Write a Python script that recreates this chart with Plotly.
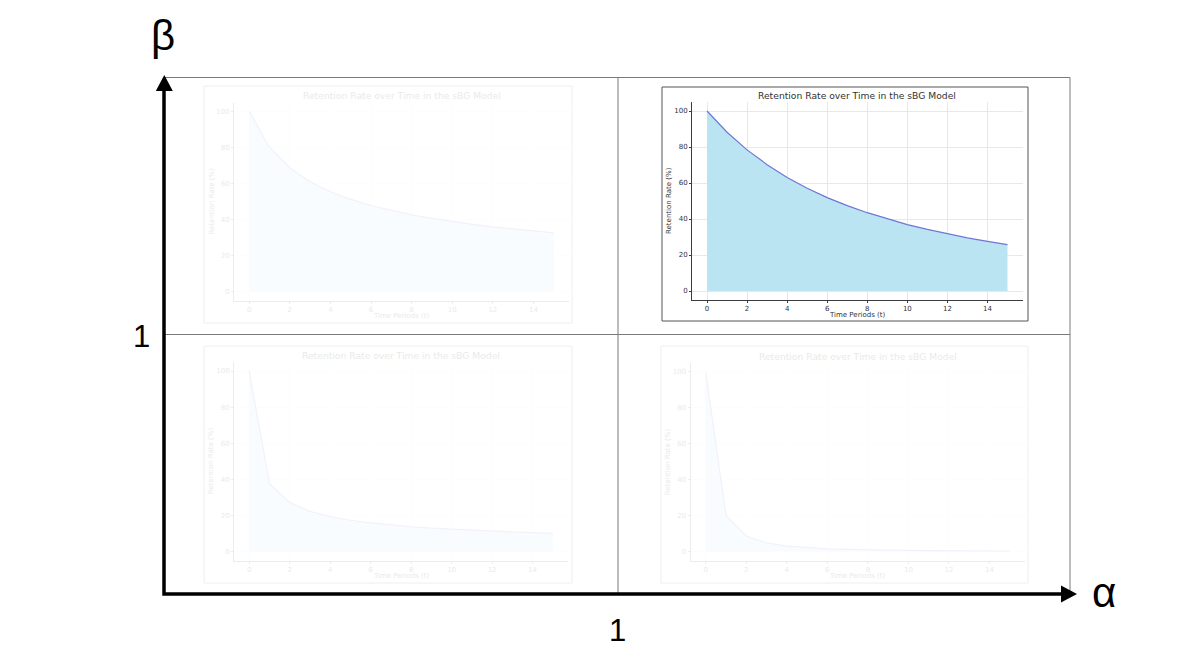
import plotly.graph_objects as go

# time periods and retention curves (percent), one per quadrant
periods = list(range(16))
ret_top_left = [100, 80.0, 68.6, 61.0, 55.4, 51.2, 47.8, 45.0, 42.6, 40.6, 38.8, 37.3, 35.9, 34.7, 33.6, 32.6]
ret_top_right = [100, 88.2, 78.4, 70.2, 63.1, 57.1, 51.9, 47.4, 43.5, 40.0, 36.9, 34.2, 31.7, 29.5, 27.6, 25.8]
ret_bottom_left = [100, 37.5, 27.1, 22.2, 19.3, 17.3, 15.8, 14.6, 13.7, 12.9, 12.3, 11.7, 11.2, 10.8, 10.4, 10.0]
ret_bottom_right = [100, 20.0, 8.6, 4.8, 3.0, 2.1, 1.5, 1.2, 0.9, 0.8, 0.6, 0.5, 0.4, 0.4, 0.3, 0.3]

x_ticks = [0, 2, 4, 6, 8, 10, 12, 14]
y_ticks = [0, 20, 40, 60, 80, 100]
chart_title = "Retention Rate over Time in the sBG Model"
x_title = "Time Periods (t)"
y_title = "Retention Rate (%)"

# the page body has an 8px margin, so the figure sits at (8, 8) in the window
W, H = 1200, 667
OFF = 8
FW, FH = W - 2 * OFF, H - 2 * OFF
FONT = "DejaVu Sans"


def fade(rgb, a):
    # blend a colour toward white, like a washed-out picture
    r, g, b = [round(255 - (255 - c) * a) for c in rgb]
    return f"rgb({r},{g},{b})"


def px_x(x):
    return (x - OFF) / FW


def px_y(y):
    return 1 - (y - OFF) / FH


# panel layout in window pixels: frame box, plot area, opacity
panels = [
    dict(y=ret_top_left, frame=(204, 86, 572, 323), area=(234, 102.5, 569, 300.5), a=0.1),
    dict(y=ret_top_right, frame=(662, 87, 1028, 321), area=(692, 102, 1022.5, 300), a=1.0),
    dict(y=ret_bottom_left, frame=(204, 346, 572, 583), area=(234, 362, 568, 560.5), a=0.1),
    dict(y=ret_bottom_right, frame=(661, 346, 1028, 583), area=(690.5, 363, 1025, 560.5), a=0.1),
]

fig = go.Figure()
shapes = []
annotations = []

for i, p in enumerate(panels, start=1):
    a = p["a"]
    x0, y0, x1, y1 = p["area"]
    sfx = "" if i == 1 else str(i)
    fig.add_trace(go.Scatter(
        x=periods, y=p["y"], mode="lines", fill="tozeroy",
        fillcolor=fade((187, 228, 243), a),
        line=dict(color=fade((112, 118, 212), a), width=1.2),
        xaxis="x" + sfx, yaxis="y" + sfx, hoverinfo="skip",
    ))
    spine = fade((60, 60, 60), a)
    txt = fade((50, 50, 50), a)
    grid = fade((232, 232, 232), a)
    common = dict(showline=True, linecolor=spine, linewidth=1, ticks="outside", ticklen=2,
                  tickwidth=0.8, tickcolor=spine, tickfont=dict(family=FONT, size=7, color=txt),
                  showgrid=True, gridcolor=grid, gridwidth=0.8, zeroline=False, fixedrange=True)
    fig.update_layout({
        "xaxis" + sfx: dict(common, domain=[px_x(x0), px_x(x1)], anchor="y" + sfx,
                            range=[-0.75, 15.75], tickvals=x_ticks),
        "yaxis" + sfx: dict(common, domain=[px_y(y1), px_y(y0)], anchor="x" + sfx,
                            range=[-5, 105], tickvals=y_ticks),
    })
    fx0, fy0, fx1, fy1 = p["frame"]
    shapes.append(dict(type="rect", x0=fx0, y0=fy0, x1=fx1, y1=fy1,
                       line=dict(color=fade((85, 85, 85), a), width=1), layer="below"))
    cx = (x0 + x1) / 2
    annotations += [
        dict(text=chart_title, x=cx, y=y0 - 7, font=dict(family=FONT, size=9.2, color=txt)),
        dict(text=x_title, x=cx, y=y1 + 15, font=dict(family=FONT, size=7, color=txt)),
        dict(text=y_title, x=x0 - 23, y=(y0 + y1) / 2, textangle=-90,
             font=dict(family=FONT, size=7, color=txt)),
    ]

# quadrant frame (grey) and the alpha / beta axes (black arrows)
grey = dict(color="#7a7a7a", width=1)
shapes += [
    dict(type="line", x0=164, y0=77.5, x1=1070, y1=77.5, line=grey),
    dict(type="line", x0=1070, y0=77.5, x1=1070, y1=594, line=grey),
    dict(type="line", x0=618, y0=77.5, x1=618, y1=594, line=grey),
    dict(type="line", x0=164, y0=334.5, x1=1070, y1=334.5, line=grey),
    dict(type="path", path="M164,88 L164,594 L1064,594", line=dict(color="black", width=3.5)),
    dict(type="path", path="M164.3,75 L155.8,91 L172.8,91 Z", fillcolor="black", line=dict(width=0)),
    dict(type="path", path="M1077,594 L1061,585.5 L1061,602.5 Z", fillcolor="black", line=dict(width=0)),
]
for s in shapes:
    s.update(xref="x5", yref="y5")

big = "Liberation Sans"
annotations += [
    dict(text="β", x=163, y=35, font=dict(family=big, size=42, color="black")),
    dict(text="α", x=1104, y=592, font=dict(family=big, size=42, color="black")),
    dict(text="1", x=141, y=336, font=dict(family=big, size=31, color="black")),
    dict(text="1", x=617.5, y=630, font=dict(family=big, size=31, color="black")),
]
for an in annotations:
    an.update(xref="x5", yref="y5", showarrow=False, xanchor="center", yanchor="middle")

fig.update_layout(
    width=FW, height=FH,
    margin=dict(l=0, r=0, t=0, b=0),
    paper_bgcolor="white", plot_bgcolor="rgba(0,0,0,0)",
    showlegend=False,
    # invisible full-page axis in window pixels, used for the diagram frame and labels
    xaxis5=dict(domain=[0, 1], range=[OFF, W - OFF], visible=False, fixedrange=True, anchor="y5"),
    yaxis5=dict(domain=[0, 1], range=[H - OFF, OFF], visible=False, fixedrange=True, anchor="x5"),
    shapes=shapes,
    annotations=annotations,
)

fig.write_html("out.html")
